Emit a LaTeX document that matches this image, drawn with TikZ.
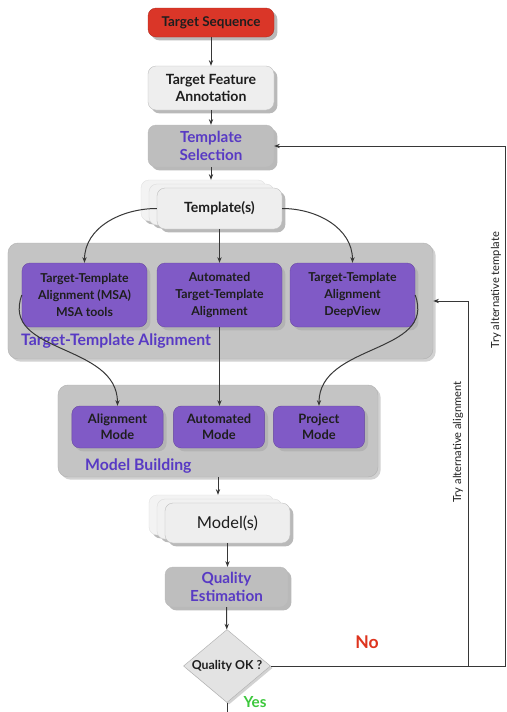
\documentclass[tikz,border=0pt]{standalone}
\usepackage{fontspec}
\setmainfont{Lato}
\usepackage{tikz}
\usetikzlibrary{shapes,arrows.meta,positioning,calc,shadows}

\definecolor{seqred}{RGB}{218,54,40}
\definecolor{boxlight}{RGB}{238,238,238}
\definecolor{stepgrey}{RGB}{190,190,190}
\definecolor{groupgrey}{RGB}{196,196,196}
\definecolor{alnpurple}{RGB}{128,90,198}
\definecolor{txtpurple}{RGB}{88,58,196}
\definecolor{txtdark}{RGB}{30,30,30}
\definecolor{linegrey}{RGB}{55,55,55}
\definecolor{noRed}{RGB}{222,52,30}
\definecolor{yesGreen}{RGB}{60,200,60}

\begin{document}
\begin{tikzpicture}[x=0.3mm, y=0.3mm,
  box/.style={rectangle, rounded corners=2.4mm, draw=gray!55, line width=0.3pt,
    align=center, inner sep=0pt, text=txtdark,
    font=\bfseries\fontsize{12}{14.5}\selectfont,
    drop shadow={shadow xshift=1mm, shadow yshift=-1mm, fill=gray!60, opacity=0.9}},
  stepbox/.style={box, fill=stepgrey, text=txtpurple,
    font=\bfseries\fontsize{13}{16}\selectfont},
  stackbox/.style={box, fill=boxlight, minimum width=37.5mm, minimum height=12.3mm},
  alnbox/.style={box, fill=alnpurple, draw=alnpurple!80!black, minimum height=19.2mm,
    minimum width=37.5mm, font=\bfseries\fontsize{10.5}{14.5}\selectfont},
  modebox/.style={alnbox, minimum height=12.6mm, minimum width=27.4mm,
    font=\bfseries\fontsize{11}{14}\selectfont},
  group/.style={rectangle, rounded corners=3mm, draw=gray!60, fill=groupgrey,
    drop shadow={shadow xshift=0.8mm, shadow yshift=-0.8mm, fill=gray!50, opacity=0.7}},
  grouplabel/.style={anchor=west, text=txtpurple, font=\bfseries\fontsize{13.5}{16}\selectfont},
  arr/.style={-{Stealth[length=1.7mm, width=1.3mm]}, line width=0.3mm, draw=linegrey},
  line/.style={line width=0.3mm, draw=linegrey},
  sidelabel/.style={rotate=90, text=txtdark, font=\fontsize{9.5}{11}\selectfont}
]
  \fill[white] (0,0) rectangle (506,-712);
  \useasboundingbox (0,0) rectangle (506,-712);

  % top of the pipeline
  \node[box, fill=seqred, draw=seqred!80!black, minimum width=37.8mm, minimum height=8.7mm,
    font=\bfseries\fontsize{11.5}{14}\selectfont] (ts) at (211,-22.5) {Target Sequence};
  \node[box, fill=boxlight, minimum width=37.8mm, minimum height=13.2mm] (tfa) at (211,-88) {Target Feature\\Annotation};
  \node[stepbox, minimum width=37.8mm, minimum height=12.6mm] (sel) at (211,-146) {Template\\Selection};

  % stacked templates
  \node[stackbox, fill=boxlight!70, draw=gray!25] (tplC) at (203.5,-200.5) {};
  \node[stackbox, fill=boxlight!85, draw=gray!30] (tplB) at (211.5,-204.5) {};
  \node[stackbox] (tpl) at (219.5,-208.5) {Template(s)};

  % target-template alignment group
  \node[group, minimum width=127.5mm, minimum height=34.8mm] (tta) at (220.5,-301) {};
  \node[alnbox] (ttaA) at (84.5,-295) {Target-Template\\Alignment (MSA)\\MSA tools};
  \node[alnbox] (ttaB) at (219.5,-295) {Automated\\Target-Template\\Alignment};
  \node[alnbox] (ttaC) at (352.5,-295) {Target-Template\\Alignment\\DeepView};
  \node[grouplabel] (ttaLbl) at (17,-341) {Target-Template Alignment};

  % model building group
  \node[group, minimum width=96mm, minimum height=27.6mm] (mb) at (218,-431) {};
  \node[modebox] (amode) at (117.5,-427) {Alignment\\Mode};
  \node[modebox] (automode) at (219,-427) {Automated\\Mode};
  \node[modebox] (pmode) at (319,-427) {Project\\Mode};
  \node[grouplabel] (mbLbl) at (81,-466) {Model Building};

  % stacked models
  \node[stackbox, fill=boxlight!70, draw=gray!25, minimum height=12mm] (modC) at (211.5,-515) {};
  \node[stackbox, fill=boxlight!85, draw=gray!30, minimum height=12mm] (modB) at (219.5,-519) {};
  \node[stackbox, minimum height=12mm, font=\fontsize{14}{16}\selectfont] (mod) at (227.5,-523) {Model(s)};

  \node[stepbox, minimum width=36.9mm, minimum height=12mm] (qe) at (226.5,-587) {Quality\\Estimation};
  \node[diamond, draw=gray!60, fill=gray!22, inner sep=0pt, minimum width=26.1mm, minimum height=21.9mm,
    drop shadow={shadow xshift=0.6mm, shadow yshift=-0.6mm, fill=gray!50, opacity=0.7},
    label={[text=txtdark, font=\bfseries\fontsize{10.5}{12}\selectfont]center:Quality OK ?}] (qok) at (227,-666) {};

  \node[text=noRed, font=\bfseries\fontsize{15}{18}\selectfont] (no) at (367,-642) {No};
  \node[text=yesGreen, font=\bfseries\fontsize{13}{15}\selectfont, anchor=south] (yes) at (255,-712) {Yes};
  \node[sidelabel] (altAlnLbl) at (458,-442) {Try alternative alignment};
  \node[sidelabel] (altTplLbl) at (496,-290) {Try alternative template};

  \coordinate (altA) at (468,-666);
  \coordinate (altT) at (505,-666);
  \coordinate (yesEnd) at (227,-714);

  % connectors
  \draw[arr] (ts) -- (tfa);
  \draw[arr] (tfa) -- (sel);
  \draw[arr] (sel.south) -- (sel.south |- tplC.north);
  \draw[arr] (tpl.west) to[out=180, in=90] (ttaA.north);
  \draw[arr] (tpl.south) -- (tpl.south |- ttaB.north);
  \draw[arr] (tpl.east) to[out=0, in=90] (ttaC.north);
  \draw[arr] (ttaA.west) to[out=-110, in=90, looseness=1.1] (amode.north);
  \draw[arr] (ttaB.south) -- (ttaB.south |- automode.north);
  \draw[arr] (ttaC.east) to[out=-70, in=90, looseness=1.1] (pmode.north);
  \draw[arr] (mb.south) -- (mb.south |- modC.north);
  \draw[arr] (mod.south) -- (mod.south |- qe.north);
  \draw[arr] (qe) -- (qok);
  \draw[line] (qok.south) -- (yesEnd);
  \draw[arr] (qok.east) -- (altA) -- (altA |- tta.east) -- (tta.east);
  \draw[arr] (altA) -- (altT) |- (sel.east);
\end{tikzpicture}
\end{document}
